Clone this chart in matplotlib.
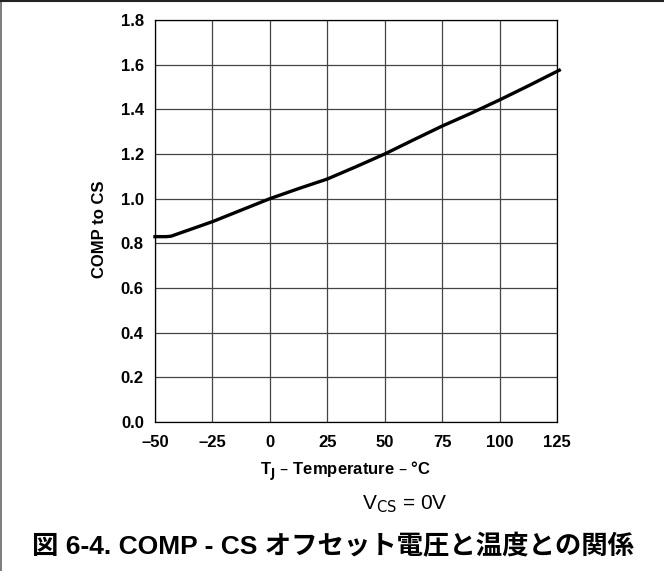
import matplotlib.pyplot as plt
from matplotlib.lines import Line2D

# data
temp_c = [-50, -45, -43, -25, 0, 12.5, 25, 37.5, 50, 62.5, 75, 87.5, 100, 112.5, 126]
comp_to_cs = [0.83, 0.83, 0.832, 0.897, 1.0, 1.045, 1.088, 1.143, 1.2, 1.263, 1.325, 1.382, 1.442, 1.505, 1.575]

x_ticks = [-50, -25, 0, 25, 50, 75, 100, 125]
y_ticks = [0.0, 0.2, 0.4, 0.6, 0.8, 1.0, 1.2, 1.4, 1.6, 1.8]

plt.rcParams['font.family'] = ['Liberation Sans', 'Noto Sans CJK JP', 'DejaVu Sans']

fig = plt.figure(figsize=(6.64, 5.71), dpi=100)
ax = fig.add_axes([0.2334, 0.2609, 0.6054, 0.7041])

ax.plot(temp_c, comp_to_cs, color='black', lw=2.4, clip_on=False, zorder=3)

ax.set_xlim(-50, 125)
ax.set_ylim(0, 1.8)
ax.set_xticks(x_ticks)
ax.set_yticks(y_ticks)
ax.set_xticklabels([str(t).replace('-', '\u2013') for t in x_ticks], fontweight='bold', fontsize=12)
ax.set_yticklabels(['%.1f' % t for t in y_ticks], fontweight='bold', fontsize=12)
ax.tick_params(length=0, pad=9)
ax.tick_params(axis='y', pad=8)
ax.grid(True, color='#444444', lw=0.9)
for s in ax.spines.values():
    s.set_color('black')
    s.set_linewidth(0.9)

ax.set_xlabel('T$_\\mathbf{J}$ \u2013 Temperature \u2013 °C', fontweight='bold', fontsize=12)
ax.set_ylabel('COMP to CS', fontweight='bold', fontsize=12)
ax.xaxis.set_label_coords(0.475, -0.095)
ax.yaxis.set_label_coords(-0.12, 0.48)

fig.text(0.61, 1 - 504 / 571, 'V$_{\\mathrm{CS}}$ = 0V', ha='center', va='center', fontsize=15)
fig.text(0.502, 1 - 547 / 571, '図 6-4. COMP - CS オフセット電圧と温度との関係',
         ha='center', va='center', fontsize=19, fontweight='bold')

# frame lines on left and top of the page
fig.add_artist(Line2D([0.002, 0.002], [0, 1], color='#666666', lw=1.2, transform=fig.transFigure))
fig.add_artist(Line2D([0, 1], [0.999, 0.999], color='#222222', lw=1.5, transform=fig.transFigure))

plt.savefig('out.png', dpi=100)
plt.close()
